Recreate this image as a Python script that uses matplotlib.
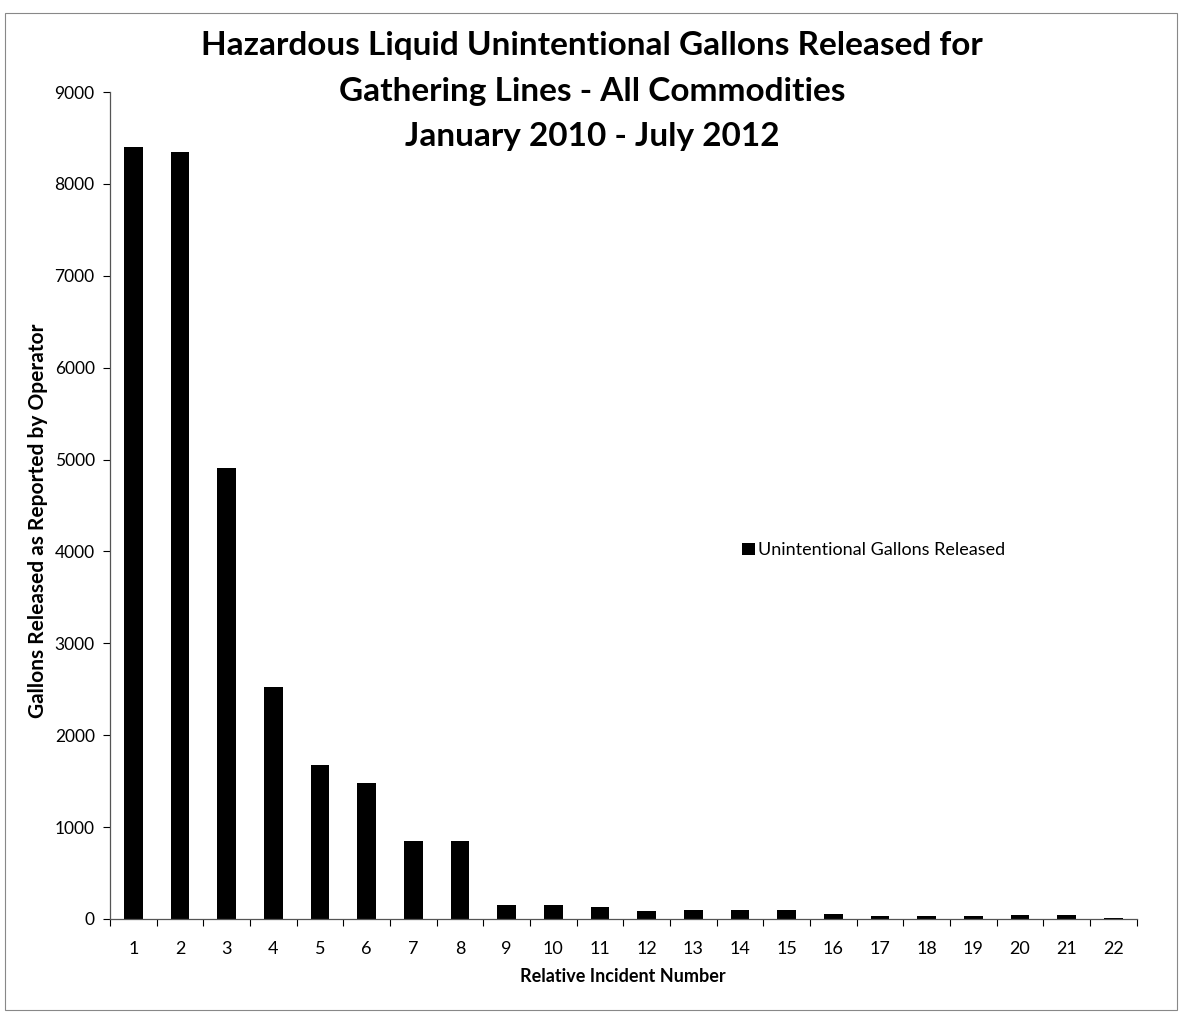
import numpy as np
import matplotlib
matplotlib.use("Agg")
import matplotlib.pyplot as plt
from matplotlib.patches import Rectangle

plt.rcParams["font.family"] = ["Lato", "DejaVu Sans"]

incidents = [str(i) for i in range(1, 23)]
gallons = [8400, 8350, 4910, 2530, 1680, 1480, 850, 850, 150, 150, 125, 90,
           95, 95, 100, 50, 32, 36, 36, 42, 42, 6]
series_name = "Unintentional Gallons Released"

fig = plt.figure(figsize=(11.79, 10.16), dpi=100)
ax = fig.add_axes([0.0933, 0.0955, 0.8707, 0.8139])

x = np.arange(len(incidents))
ax.bar(x, gallons, width=0.4, color="black", label=series_name)

ax.set_xlim(-0.5, len(incidents) - 0.5)
ax.set_ylim(0, 9000)
ax.set_yticks(np.arange(0, 9001, 1000))
ax.tick_params(axis="y", labelsize=12.5, length=5, direction="out", width=0.8, pad=6)
ax.set_xticks(x)
ax.set_xticklabels(incidents)
ax.tick_params(axis="x", which="major", length=0, labelsize=13, pad=16)
ax.set_xticks(np.arange(-0.5, len(incidents), 1), minor=True)
ax.tick_params(axis="x", which="minor", length=5, direction="out", width=0.8)

for s in ["top", "right"]:
    ax.spines[s].set_visible(False)
for s in ["left", "bottom"]:
    ax.spines[s].set_color("#555555")
    ax.spines[s].set_linewidth(0.9)

ax.set_xlabel("Relative Incident Number", fontsize=13, fontweight="bold", labelpad=8)
ax.set_ylabel("Gallons Released as Reported by Operator", fontsize=15,
              fontweight="bold")
ax.yaxis.set_label_coords(-0.060, 0.482)

ax.legend(loc="upper left", bbox_to_anchor=(0.6, 0.475), frameon=False,
          fontsize=13, handlelength=0.7, handleheight=0.7, handletextpad=0.2)

fig.text(0.502, 0.969, "Hazardous Liquid Unintentional Gallons Released for\n"
         "Gathering Lines - All Commodities\nJanuary 2010 - July 2012",
         ha="center", va="top", fontsize=24, fontweight="bold", linespacing=1.68)

fig.patches.append(Rectangle((0.004, 0.006), 0.994, 0.981, transform=fig.transFigure,
                             fill=False, edgecolor="#888888", linewidth=0.8))

fig.savefig("out.png", dpi=100)
